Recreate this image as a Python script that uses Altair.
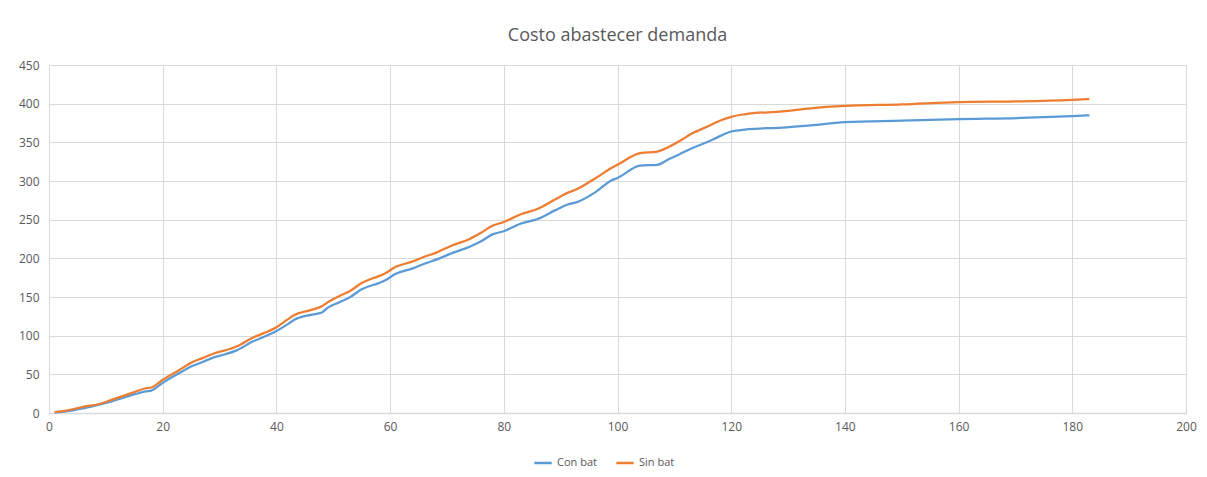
import altair as alt
import pandas as pd

x_vals = [1, 3, 6, 9, 11, 15, 17, 18, 20, 23, 25, 27, 29, 31, 33, 36, 37, 40, 42, 43,
          46, 48, 49, 51, 53, 55, 58, 59, 61, 64, 66, 68, 71, 74, 76, 78, 80, 83, 86, 89,
          91, 93, 96, 99, 100, 104, 107, 109, 111, 113, 116, 118, 120, 122, 123, 129, 134,
          140, 150, 160, 171, 180, 183]

sin_bat = [1, 3, 8, 12, 17, 27, 32, 33, 43, 56, 65, 71, 77, 81, 86, 98, 101, 111, 121, 126,
           133, 138, 143, 151, 158, 168, 177, 180, 189, 196, 202, 207, 217, 225, 233, 242, 247, 257, 264, 276,
           284, 290, 303, 317, 321, 336, 338, 344, 352, 361, 371, 378, 383, 386, 387, 390, 394,
           397, 399, 402, 403, 405, 406]

con_bat = [0.5, 2, 6, 11, 15, 24, 28, 29, 39, 52, 60, 66, 72, 76, 81, 93, 96, 106, 115, 120,
           127, 130, 136, 143, 150, 160, 168, 171, 180, 187, 193, 198, 207, 215, 222, 231, 235, 245, 251, 262,
           269, 273, 285, 301, 304, 320, 321, 328, 335, 342, 351, 358, 364, 366, 367, 369, 372,
           376, 378, 380, 381.5, 384, 385]

series_names = ["Con bat", "Sin bat"]
series_colors = ["#5B9BD5", "#ED7D31"]

rows = []
for i, xv in enumerate(x_vals):
    rows.append({"x": xv, "valor": con_bat[i], "serie": series_names[0]})
    rows.append({"x": xv, "valor": sin_bat[i], "serie": series_names[1]})
df = pd.DataFrame(rows)

FONT = "Open Sans"
GREY = "#595959"
GRID = "#d9d9d9"

chart = alt.Chart(df).mark_line(strokeWidth=2.25, interpolate="monotone").encode(
    x=alt.X("x:Q", scale=alt.Scale(domain=[0, 200], nice=False),
            axis=alt.Axis(values=list(range(0, 201, 20)), title=None, grid=True,
                          gridColor=GRID, domainColor=GRID, domainWidth=1.5, ticks=False,
                          labelFlush=False,
                          labelColor=GREY, labelFontSize=12, labelFont=FONT, labelPadding=8)),
    y=alt.Y("valor:Q", scale=alt.Scale(domain=[0, 450], nice=False),
            axis=alt.Axis(values=list(range(0, 451, 50)), title=None, grid=True,
                          gridColor=GRID, domain=False, ticks=False,
                          labelColor=GREY, labelFontSize=12, labelFont=FONT, labelPadding=10)),
    color=alt.Color("serie:N", scale=alt.Scale(domain=series_names, range=series_colors),
                    legend=alt.Legend(title=None, orient="none", direction="horizontal",
                                      legendX=484, legendY=388, symbolType="stroke",
                                      symbolStrokeWidth=2.5, symbolSize=300,
                                      labelFont=FONT, labelFontSize=11, labelColor=GREY,
                                      columnPadding=14)),
).properties(
    width=1137,
    height=348,
    title=alt.TitleParams("Costo abastecer demanda", font=FONT, fontSize=18,
                          fontWeight="normal", color=GREY, anchor="middle", offset=14),
    autosize=alt.AutoSizeParams(type="none"),
    padding={"left": 41, "top": 57, "right": 12, "bottom": 60},
).configure_view(stroke=None)

chart.save("out.html", embed_options={"renderer": "svg", "actions": False})
